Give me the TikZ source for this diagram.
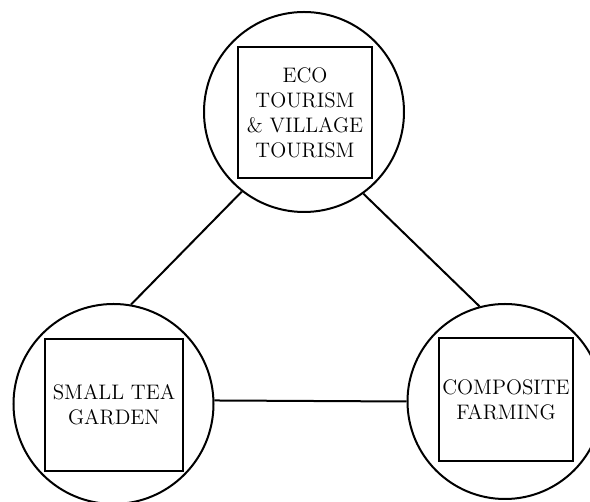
\documentclass[tikz,border=0pt]{standalone}
\usepackage{tikz}
\tikzstyle{ring}=[
        draw = black,
        line width = 1.2pt,
        circle,
        inner sep = 0pt
    ]
\tikzstyle{box}=[
        draw = black,
        line width = 1.5pt,
        rectangle,
        inner sep = 0pt,
        align = center,
        font = \fontsize{12.6}{15}\selectfont
    ]

\begin{document}
\begin{tikzpicture}[line width=1.2pt]
        \useasboundingbox (0pt,0pt) rectangle (354pt,-301.2pt);
        \node[ring, minimum size=120pt] (T) at (182.4pt,-67.2pt) {};
        \node[ring, minimum size=120pt] (L) at (68.1pt,-242.4pt) {};
        \node[ring, minimum size=117pt] (R) at (303pt,-240.9pt) {};

        \node[box, minimum width=80.4pt, minimum height=78.6pt] (TB) at (183pt,-67.5pt) {ECO\\TOURISM\\\&~VILLAGE\\TOURISM};
        \node[box, minimum width=82.8pt, minimum height=79.2pt] (LB) at (68.4pt,-243pt) {SMALL TEA\\GARDEN};
        \node[box, minimum width=80.4pt, minimum height=73.8pt] (RB) at (303.6pt,-239.7pt) {COMPOSITE\\FARMING};

        \draw (T.232) -- (L.80.5);
        \draw (T.306) -- (R.105);
        \draw (L.2) -- (R.180);
    \end{tikzpicture}
\end{document}
